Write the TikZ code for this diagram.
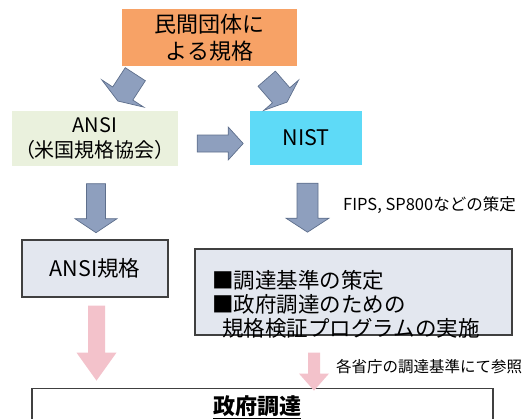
\documentclass[tikz,border=0pt]{standalone}
\usepackage{fontspec}
\newfontfamily\jpfont{Noto Sans CJK JP}
\usetikzlibrary{calc}
\definecolor{orangefill}{HTML}{F7A266}
\definecolor{ansigreen}{HTML}{EAF1DD}
\definecolor{nistcyan}{HTML}{5EDAF7}
\definecolor{boxgray}{HTML}{E3E7EF}
\definecolor{arrowblue}{HTML}{8E9FBE}
\definecolor{arrowedge}{HTML}{5E6F8C}
\definecolor{arrowpink}{HTML}{F3C2CB}
\def\blockarrow[#1](#2)(#3:#4:#5:#6:#7){\draw[#1,shift={(#2)},rotate=#3] (0,{-#5/2}) -- ({#4-#7},{-#5/2}) -- ({#4-#7},{-#6/2}) -- (#4,0) -- ({#4-#7},{#6/2}) -- ({#4-#7},{#5/2}) -- (0,{#5/2}) -- cycle;}
\tikzset{
	plainbox/.style={rectangle, inner sep=0pt, align=center},
	graybox/.style={plainbox, draw=black!75, line width=1.2pt, fill=boxgray},
	grayarrow/.style={fill=arrowblue, draw=arrowedge, line width=0.7pt},
	pinkarrow/.style={fill=arrowpink, draw=none},
	bigtext/.style={font=\jpfont\fontsize{21.5}{24}\selectfont},
	smalltext/.style={font=\jpfont\fontsize{15.5}{18}\selectfont}
}

\begin{document}
\begin{tikzpicture}[x=1pt, y=-1pt]
		%%%%% START %%%%%
		\useasboundingbox (0, 0) rectangle (525, 418);
		\clip (0, 0) rectangle (525, 418);
		
		\node[plainbox, fill=orangefill, minimum width=175, minimum height=57, font=\jpfont\fontsize{22}{27}\selectfont] (org) at (209.5, 37.5) {民間団体に\\よる規格};
		
		\node[plainbox, fill=ansigreen, minimum width=166, minimum height=55, font=\jpfont\fontsize{20}{25}\selectfont] (ansi) at (95, 138) {ANSI\\（米国規格協会）};
		\node[plainbox, fill=nistcyan, minimum width=112, minimum height=54, bigtext] (nist) at (306, 138) {NIST};
		
		\node[graybox, minimum width=146, minimum height=57, bigtext] (ansispec) at (95, 268.5) {ANSI規格};
		\node[graybox, minimum width=317, minimum height=86] (nistwork) at (353.5, 292) {};
		\node[anchor=north west, inner sep=0pt, align=left, bigtext] (worktext) at (212, 270) {■調達基準の策定\\■政府調達のための\\\hspace*{10pt}規格検証プログラムの実施};
		
		\node[plainbox, draw=black!75, line width=1.2pt, minimum width=461, minimum height=70, anchor=north] (gov) at (262.5, 388) {};
		\node[font=\jpfont\bfseries\fontsize{22}{26}\selectfont, inner sep=0pt] (govtitle) at (257, 407) {\underline{政府調達}};
		
		\node[anchor=west, inner sep=0pt, font=\jpfont\fontsize{16.5}{19}\selectfont] (fips) at (343, 205) {FIPS, SP800などの策定};
		\node[anchor=west, inner sep=0pt, smalltext] (ref) at (336, 367) {各省庁の調達基準にて参照};
		
		% arrow tails
		\coordinate (tailL) at ($(org.south west)+(13.5, 8)$);
		\coordinate (tailR) at ($(org.south east)+(-30.5, 12.5)$);
		\coordinate (tailH) at ($(ansi.east)+(19, 5.5)$);
		\coordinate (tailA) at ($(ansi.south)+(1, 18)$);
		\coordinate (tailN) at ($(nist.south)+(1.5, 18)$);
		\coordinate (tailP) at ($(ansispec.south)+(1.5, 8)$);
		\coordinate (tailW) at ($(nistwork.south)+(-39.5, 17)$);
		
		\blockarrow[grayarrow](tailL)(-123:32:24:50:9)
		\blockarrow[grayarrow](tailR)(-49:31:23:46:9)
		\blockarrow[grayarrow](tailH)(0:46:17:33:15)
		\blockarrow[grayarrow](tailA)(-90:49:19:42:14)
		\blockarrow[grayarrow](tailN)(-90:49:21:43:14)
		\blockarrow[pinkarrow](tailP)(-90:75:17:40:28)
		\blockarrow[pinkarrow](tailW)(-90:38:12:30:17)
		%%%%% END %%%%%
	\end{tikzpicture}
\end{document}
